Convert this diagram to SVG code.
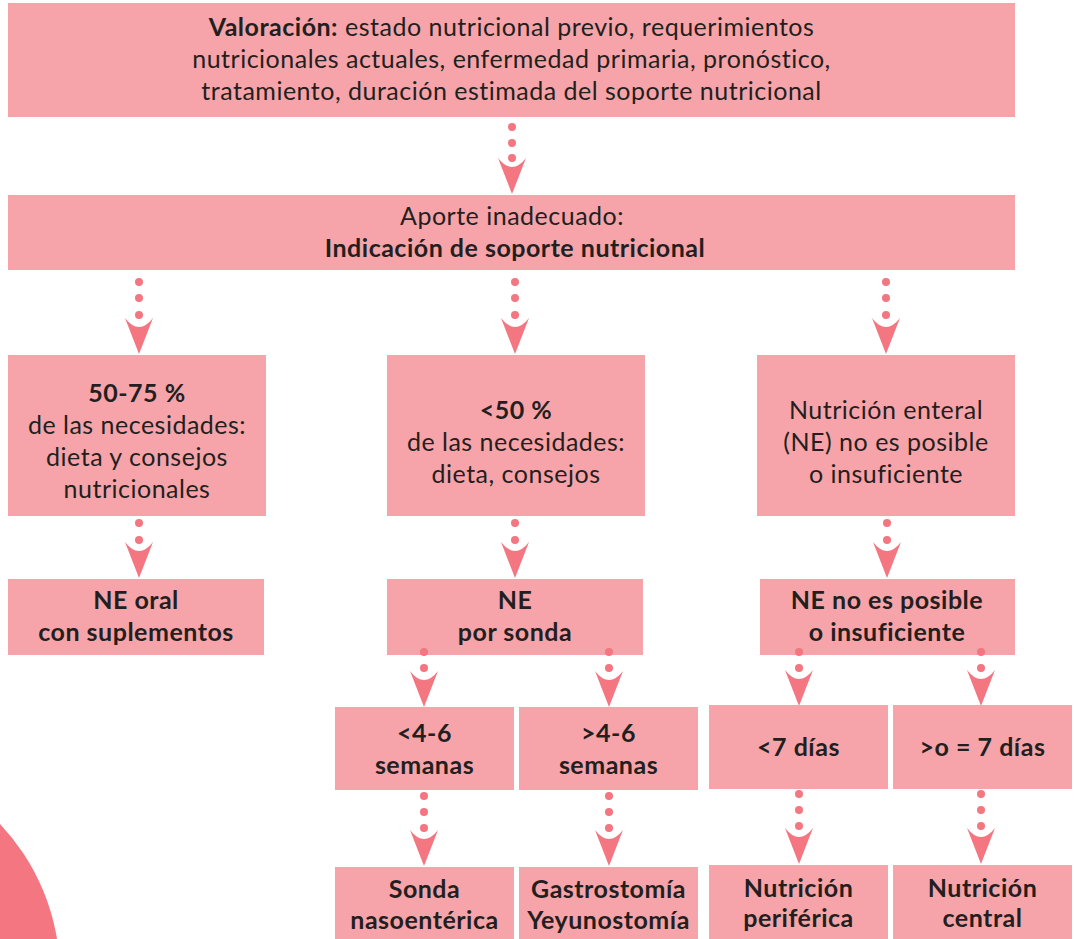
<svg xmlns="http://www.w3.org/2000/svg" xmlns:xlink="http://www.w3.org/1999/xlink" width="1074" height="939" viewBox="0 0 1074 939">
<style>
.box{fill:#F6A4A9}
.t{font-family:Lato,"Liberation Sans",sans-serif;font-size:25px;letter-spacing:0.5px;fill:#231F20;text-anchor:middle}
.b{font-weight:bold}
.dot,.head{fill:#F37680}
</style>
<defs>
<path id="ah" class="head" d="M-14,0 Q0,18 14,0 L0,36 Z"/>
<circle id="dt" class="dot" r="4"/>
</defs>
<rect width="1074" height="939" fill="#ffffff"/>
<circle cx="-160" cy="975" r="220" fill="#F37680"/>

<g id="connectors">
<use href="#dt" x="512" y="127"/><use href="#dt" x="512" y="143"/><use href="#dt" x="512" y="158"/><use href="#ah" x="512" y="158"/>

<use href="#dt" x="139" y="282"/><use href="#dt" x="139" y="298"/><use href="#dt" x="139" y="315"/><use href="#ah" x="139" y="318"/>
<use href="#dt" x="515" y="282"/><use href="#dt" x="515" y="298"/><use href="#dt" x="515" y="315"/><use href="#ah" x="515" y="318"/>
<use href="#dt" x="886" y="282"/><use href="#dt" x="886" y="298"/><use href="#dt" x="886" y="315"/><use href="#ah" x="886" y="318"/>

<use href="#dt" x="139" y="523"/><use href="#dt" x="139" y="540"/><use href="#ah" x="139" y="542"/>
<use href="#dt" x="515" y="523"/><use href="#dt" x="515" y="540"/><use href="#ah" x="515" y="542"/>
<use href="#dt" x="887" y="523"/><use href="#dt" x="887" y="540"/><use href="#ah" x="887" y="542"/>

<use href="#dt" x="424" y="668"/><use href="#ah" x="424" y="671"/>
<use href="#dt" x="609" y="668"/><use href="#ah" x="609" y="671"/>
<use href="#dt" x="799" y="668"/><use href="#ah" x="799" y="670"/>
<use href="#dt" x="981" y="668"/><use href="#ah" x="981" y="670"/>

<use href="#dt" x="424" y="796"/><use href="#dt" x="424" y="812"/><use href="#dt" x="424" y="828"/><use href="#ah" x="424" y="830"/>
<use href="#dt" x="609" y="796"/><use href="#dt" x="609" y="812"/><use href="#dt" x="609" y="828"/><use href="#ah" x="609" y="830"/>
<use href="#dt" x="799" y="794"/><use href="#dt" x="799" y="810"/><use href="#dt" x="799" y="826"/><use href="#ah" x="799" y="828"/>
<use href="#dt" x="981" y="794"/><use href="#dt" x="981" y="810"/><use href="#dt" x="981" y="826"/><use href="#ah" x="981" y="828"/>
</g>

<g id="valoracion">
<rect class="box" x="8" y="3" width="1007" height="114"/>
<text class="t" x="511.5" y="36"><tspan class="b">Valoración:</tspan> estado nutricional previo, requerimientos</text>
<text class="t" x="511.5" y="68">nutricionales actuales, enfermedad primaria, pronóstico,</text>
<text class="t" x="511.5" y="100">tratamiento, duración estimada del soporte nutricional</text>
</g>

<g id="aporte">
<rect class="box" x="8" y="195" width="1007" height="75"/>
<text class="t" x="512" y="225">Aporte inadecuado:</text>
<text class="t b" x="515" y="257">Indicación de soporte nutricional</text>
</g>

<g id="n5075">
<rect class="box" x="8" y="355" width="258" height="161"/>
<text class="t b" x="137" y="402">50-75 %</text>
<text class="t" x="137" y="434">de las necesidades:</text>
<text class="t" x="137" y="466">dieta y consejos</text>
<text class="t" x="137" y="498">nutricionales</text>
</g>

<g id="n50">
<rect class="box" x="387" y="355" width="258" height="161"/>
<text class="t b" x="516" y="419">&lt;50 %</text>
<text class="t" x="516" y="451">de las necesidades:</text>
<text class="t" x="516" y="483">dieta, consejos</text>
</g>

<g id="nenteral">
<rect class="box" x="757" y="355" width="258" height="161"/>
<text class="t" x="886" y="419">Nutrición enteral</text>
<text class="t" x="886" y="451">(NE) no es posible</text>
<text class="t" x="886" y="483">o insuficiente</text>
</g>

<g id="neoral">
<rect class="box" x="8" y="579" width="256" height="76"/>
<text class="t b" x="136" y="609">NE oral</text>
<text class="t b" x="136" y="641">con suplementos</text>
</g>

<g id="nesonda">
<rect class="box" x="387" y="579" width="256" height="76"/>
<text class="t b" x="515" y="609">NE</text>
<text class="t b" x="515" y="641">por sonda</text>
</g>

<g id="nenoposible">
<rect class="box" x="760" y="579" width="255" height="76"/>
<text class="t b" x="887" y="609">NE no es posible</text>
<text class="t b" x="887" y="641">o insuficiente</text>
</g>
<g id="connector-starts">
<use href="#dt" x="424" y="652"/><use href="#dt" x="609" y="652"/><use href="#dt" x="799" y="652"/><use href="#dt" x="981" y="652"/>
</g>

<g id="menos46">
<rect class="box" x="335" y="707" width="179" height="83"/>
<text class="t b" x="424.5" y="742">&lt;4-6</text>
<text class="t b" x="424.5" y="774">semanas</text>
</g>

<g id="mas46">
<rect class="box" x="519" y="707" width="179" height="83"/>
<text class="t b" x="608.5" y="742">&gt;4-6</text>
<text class="t b" x="608.5" y="774">semanas</text>
</g>

<g id="menos7">
<rect class="box" x="709" y="705" width="179" height="84"/>
<text class="t b" x="798.5" y="756">&lt;7 días</text>
</g>

<g id="mas7">
<rect class="box" x="893" y="705" width="179" height="84"/>
<text class="t b" x="982.5" y="756">&gt;o = 7 días</text>
</g>

<g id="sonda">
<rect class="box" x="335" y="867" width="179" height="72"/>
<text class="t b" x="424.5" y="898">Sonda</text>
<text class="t b" x="424.5" y="929">nasoentérica</text>
</g>

<g id="gastro">
<rect class="box" x="519" y="867" width="179" height="72"/>
<text class="t b" x="608.5" y="898">Gastrostomía</text>
<text class="t b" x="608.5" y="929">Yeyunostomía</text>
</g>

<g id="periferica">
<rect class="box" x="709" y="865" width="179" height="74"/>
<text class="t b" x="798.5" y="897">Nutrición</text>
<text class="t b" x="798.5" y="927">periférica</text>
</g>

<g id="central">
<rect class="box" x="893" y="865" width="179" height="74"/>
<text class="t b" x="982.5" y="897">Nutrición</text>
<text class="t b" x="982.5" y="927">central</text>
</g>
</svg>
